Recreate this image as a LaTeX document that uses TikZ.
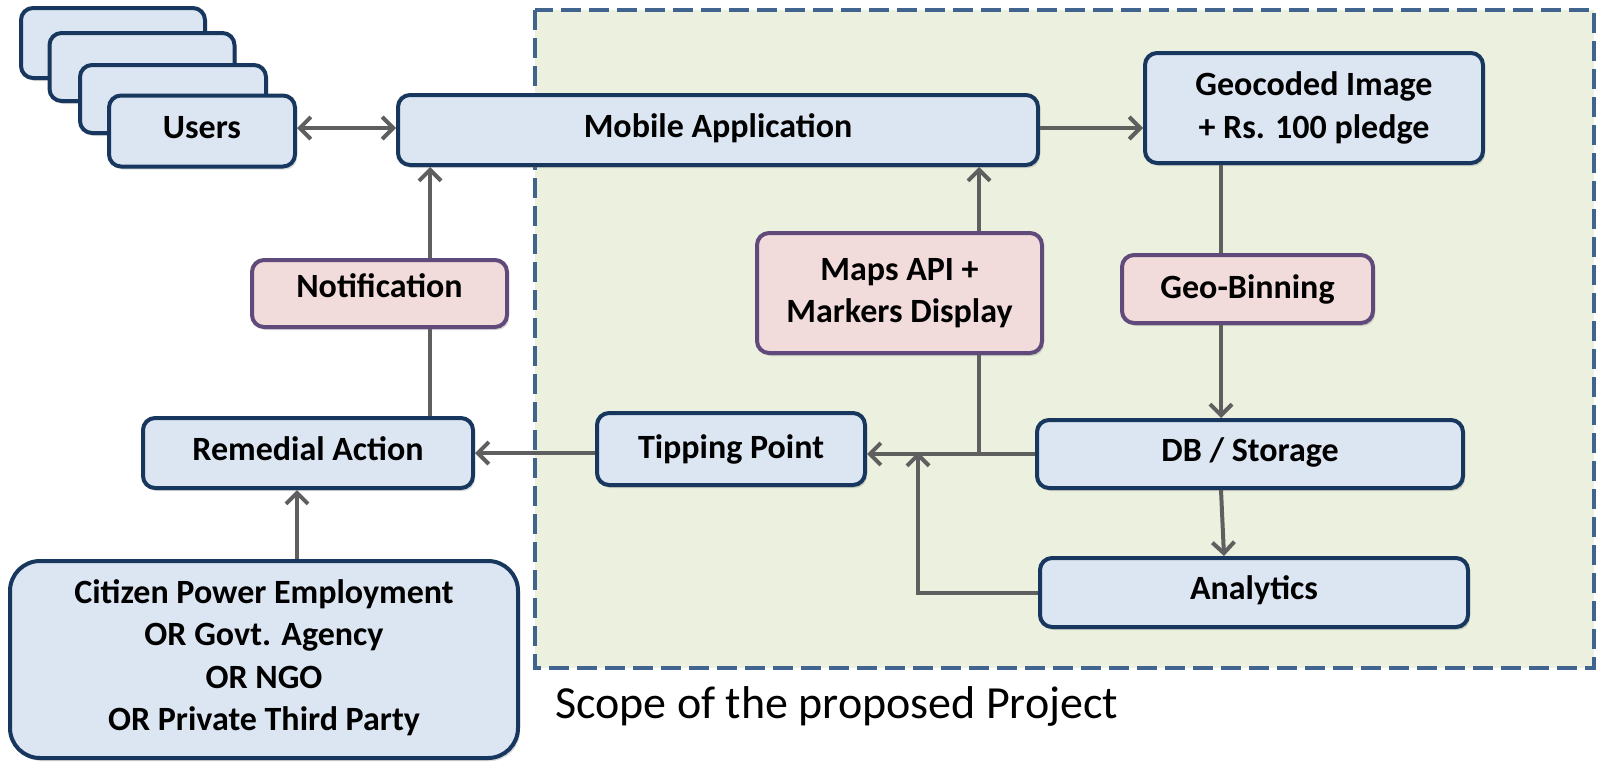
\documentclass[tikz,border=0pt]{standalone}
\usepackage{fontspec}
\setmainfont{Carlito}
\usetikzlibrary{arrows.meta,shadows}
\definecolor{bfill}{HTML}{DCE6F2}
\definecolor{bdraw}{HTML}{17375E}
\definecolor{pfill}{HTML}{F2DCDB}
\definecolor{pdraw}{HTML}{604A7B}
\definecolor{gfill}{HTML}{EBF1DE}
\definecolor{gdash}{HTML}{41648F}
\definecolor{connc}{HTML}{5F5F5F}
\tikzset{
  box/.style={draw=bdraw, fill=bfill, line width=4pt, rounded corners=12pt,
    inner sep=0pt, align=center, font=\fontsize{34}{42.5}\selectfont\bfseries,
    drop shadow={shadow xshift=2pt, shadow yshift=-3pt, opacity=0.3}},
  pbox/.style={box, draw=pdraw, fill=pfill},
  conn/.style={draw=connc, line width=4pt},
  arr/.style={conn, -{Straight Barb[length=11pt,width=22pt]}},
  arrboth/.style={conn, {Straight Barb[length=11pt,width=22pt]}-{Straight Barb[length=11pt,width=22pt]}},
  scopearea/.style={fill=gfill, draw=gdash, line width=4pt, dash pattern=on 20pt off 8pt}
}
\begin{document}
\begin{tikzpicture}[x=1pt,y=-1pt]
\useasboundingbox (0,0) rectangle (1598,761);
% scope area
\draw[scopearea] (535,10) rectangle (1594,668);
\node[anchor=base west, inner sep=0pt, font=\fontsize{46}{54}\selectfont] (scope) at (555,718) {Scope of the proposed Project};

% users stack
\node[box, minimum width=184pt, minimum height=70pt] (u1) at (113,43) {};
\node[box, minimum width=185pt, minimum height=68pt] (u2) at (142,67) {};
\node[box, minimum width=186pt, minimum height=68pt] (u3) at (173,99) {};
\node[box, minimum width=186pt, minimum height=71pt, text depth=8pt] (users) at (202,131) {Users};

\node[box, minimum width=640pt, minimum height=70pt, text depth=9pt] (mobile) at (718,130) {Mobile Application};
\node[box, minimum width=338pt, minimum height=110pt] (geo) at (1314,108) {Geocoded Image\\+ Rs. 100 pledge};
\node[pbox, minimum width=255pt, minimum height=67pt, text depth=15pt] (notif) at (379.5,293.5) {Notification};
\node[pbox, minimum width=285pt, minimum height=120pt] (maps) at (899.5,293) {Maps API +\\Markers Display};
\node[pbox, minimum width=251pt, minimum height=68pt] (bin) at (1247.5,289) {Geo-Binning};
\node[box, minimum width=330pt, minimum height=70pt, text depth=9pt] (remedial) at (308,453) {Remedial Action};
\node[box, minimum width=268pt, minimum height=72pt] (tipping) at (731,449) {Tipping Point};
\node[box, minimum width=426pt, minimum height=68pt, text depth=9pt] (db) at (1250,454) {DB / Storage};
\node[box, minimum width=428pt, minimum height=69pt, text depth=10pt] (analytics) at (1254,592.5) {Analytics};
\node[box, rounded corners=30pt, minimum width=508pt, minimum height=197pt] (citizen) at (264,659.5)
  {Citizen Power Employment\\OR Govt. Agency\\OR NGO\\OR Private Third Party\\[-34pt]\mbox{}};

% helper x positions
\coordinate (nx) at (430,0);
\coordinate (mx) at (979,0);
\coordinate (gx) at (1221,0);
\coordinate (ax) at (918,0);
\coordinate (cx) at (297,0);
\coordinate (dx) at (1224,0);

% connectors
\draw[arrboth] (users.east |- 0,128) -- (mobile.west |- 0,128);
\draw[arr] (mobile.east |- 0,128) -- (geo.west |- 0,128);
\draw[conn] (remedial.north -| nx) -- (notif.south -| nx);
\draw[arr] (notif.north -| nx) -- (mobile.south -| nx);
\draw[arr] (tipping.west |- remedial.east) -- (remedial.east);
\draw[arr] (db.west) -- (db.west -| tipping.east);
\draw[conn] (db.west -| mx) -- (maps.south -| mx);
\draw[arr] (maps.north -| mx) -- (mobile.south -| mx);
\draw[conn] (geo.south -| gx) -- (bin.north -| gx);
\draw[arr] (bin.south -| gx) -- (db.north -| gx);
\draw[arr] (db.south -| gx) -- (analytics.north -| dx);
\draw[arr] (analytics.west) -| ([yshift=2pt]db.west -| ax);
\draw[arr] (citizen.north -| cx) -- (remedial.south -| cx);
\end{tikzpicture}
\end{document}
